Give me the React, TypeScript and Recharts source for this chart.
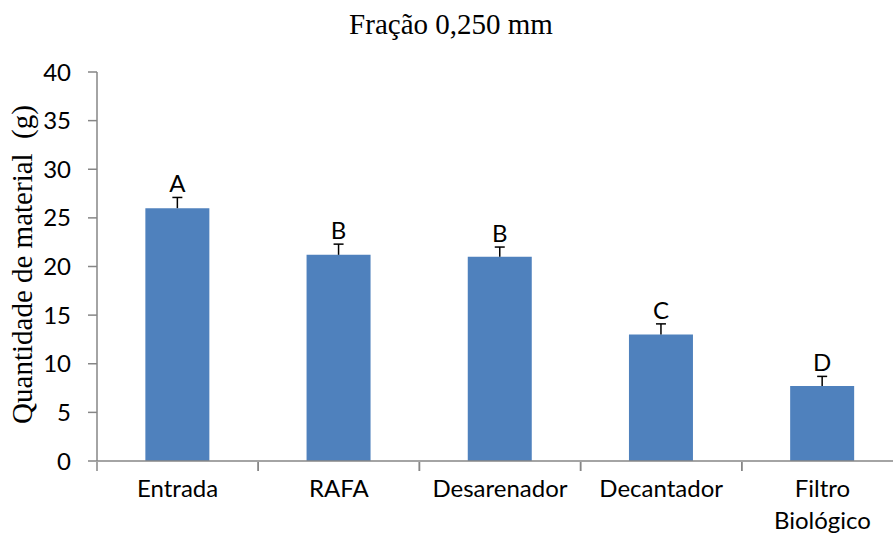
import {
  BarChart,
  Bar,
  XAxis,
  YAxis,
  LabelList,
} from "recharts";

const categories = ["Entrada", "RAFA", "Desarenador", "Decantador", "Filtro Biológico"];
const values = [26.0, 21.2, 21.0, 13.0, 7.7];
const errors = [1.1, 1.1, 1.0, 1.1, 1.0];
const letters = ["A", "B", "B", "C", "D"];
const yTicks = [0, 5, 10, 15, 20, 25, 30, 35, 40];

const data = categories.map((name, i) => ({
  name,
  value: values[i],
  err: errors[i],
  letter: letters[i],
}));

const AXIS = "#868686";
const SANS = "Lato, 'Open Sans', sans-serif";
const SERIF = "'Liberation Serif', 'DejaVu Serif', serif";

// category labels (long names break into two lines) + tick marks on the band edges
const CategoryTick = (props: any) => {
  const { x, y, payload } = props;
  const half = payload.offset || 0;
  const words: string[] = String(payload.value).length > 12 ? String(payload.value).split(" ") : [payload.value];
  return (
    <g>
      <line x1={x - half} y1={y - 1} x2={x - half} y2={y + 8} stroke={AXIS} strokeWidth={1.5} />
      <line x1={x + half} y1={y - 1} x2={x + half} y2={y + 8} stroke={AXIS} strokeWidth={1.5} />
      <text x={x} y={y} textAnchor="middle" fill="#000" fontSize={24} fontFamily={SANS}>
        {words.map((w, i) => (
          <tspan key={i} x={x} dy={i === 0 ? 34 : 32}>
            {w}
          </tspan>
        ))}
      </text>
    </g>
  );
};

// upper half of the error bar only, drawn on a stacked segment
const ErrorShape = (props: any) => {
  const { x, y, width, height } = props;
  const cx = x + width / 2;
  return (
    <g stroke="#000" strokeWidth={1.5}>
      <line x1={cx} y1={y + height} x2={cx} y2={y} />
      <line x1={cx - 5} y1={y} x2={cx + 5} y2={y} />
    </g>
  );
};

export default function App() {
  return (
    <div
      style={{
        position: "absolute",
        left: 0,
        top: 0,
        width: 893,
        height: 541,
        overflow: "hidden",
        background: "#fff",
      }}
    >
      <div
        style={{
          position: "absolute",
          left: 0,
          width: 902,
          top: 7,
          textAlign: "center",
          fontFamily: SERIF,
          fontSize: 29,
          lineHeight: "34px",
          color: "#000",
        }}
      >
        Fração 0,250 mm
      </div>
      <BarChart
        width={910}
        height={541}
        data={data}
        margin={{ top: 72, right: 7, left: 0, bottom: 0 }}
        barCategoryGap="30%"
      >
        <XAxis
          dataKey="name"
          height={80}
          stroke={AXIS}
          strokeWidth={1.5}
          tickLine={false}
          tickSize={0}
          interval={0}
          tick={<CategoryTick />}
        />
        <YAxis
          domain={[0, 40]}
          ticks={yTicks}
          width={97}
          stroke={AXIS}
          strokeWidth={1.5}
          tickSize={9}
          tickMargin={17}
          tick={{ fill: "#000", fontSize: 24, fontFamily: SANS }}
          label={{
            content: (p: any) => {
              const vb = p.viewBox;
              const cy = vb.y + vb.height / 2 - 2;
              return (
                <text
                  x={22}
                  y={cy}
                  transform={`rotate(-90, 22, ${cy})`}
                  textAnchor="middle"
                  dominantBaseline="central"
                  fontFamily={SERIF}
                  fontSize={29}
                  fill="#000"
                  style={{ whiteSpace: "pre" }}
                >
                  {"Quantidade de material  (g)"}
                </text>
              );
            },
          }}
        />
        <Bar dataKey="value" stackId="s" fill="#4F81BD" isAnimationActive={false} />
        <Bar
          dataKey="err"
          stackId="s"
          fill="none"
          shape={<ErrorShape />}
          isAnimationActive={false}
        >
          <LabelList
            dataKey="letter"
            position="top"
            offset={5}
            fill="#000"
            fontSize={24}
            fontFamily={SANS}
          />
        </Bar>
      </BarChart>
    </div>
  );
}
